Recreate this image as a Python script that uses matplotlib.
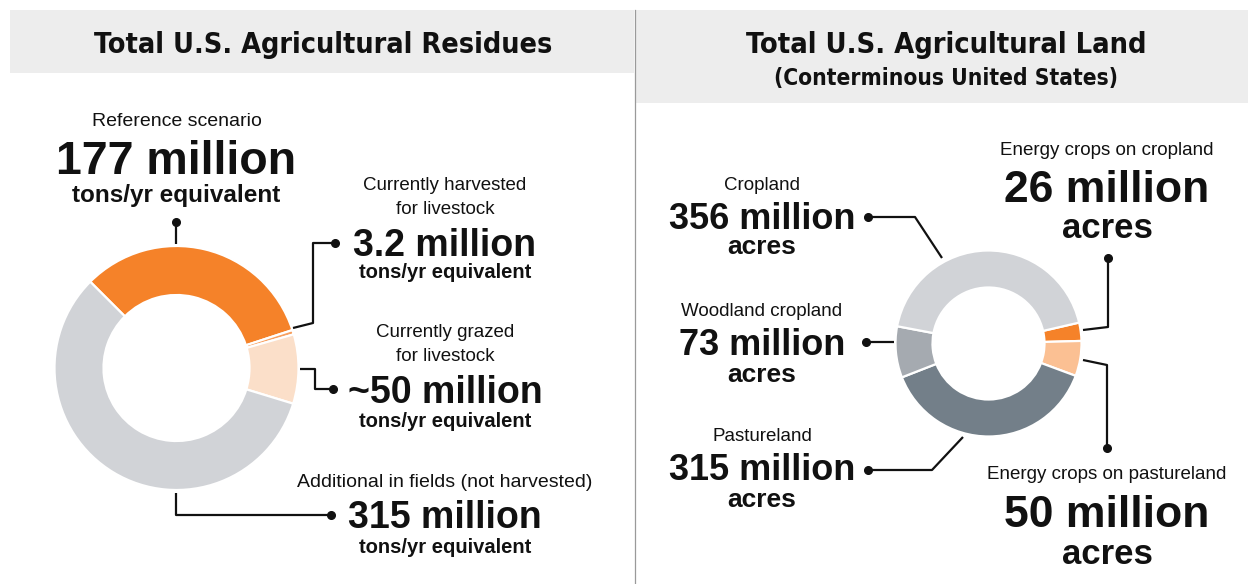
import matplotlib
matplotlib.use("Agg")
import matplotlib.pyplot as plt
from matplotlib.patches import Rectangle
from matplotlib import font_manager as fm

W, H = 1248, 584

# ---------------- data ----------------
res_labels = [["Reference scenario"], ["Currently harvested", "for livestock"],
              ["Currently grazed", "for livestock"], ["Additional in fields (not harvested)"]]
res_values = [177, 3.2, 50, 315]
res_value_text = ["177 million", "3.2 million", "~50 million", "315 million"]
res_unit = "tons/yr equivalent"
res_colors = ["#F58229", "#F7A060", "#FBDFC9", "#D1D3D7"]

land_labels = ["Energy crops on cropland", "Energy crops on pastureland",
               "Pastureland", "Woodland cropland", "Cropland"]
land_values = [26, 50, 315, 73, 356]
land_value_text = ["26 million", "50 million", "315 million", "73 million", "356 million"]
land_unit = "acres"
land_colors = ["#F58229", "#FBC093", "#737F89", "#A5AAB0", "#D1D3D7"]

titles = ["Total U.S. Agricultural Residues", "Total U.S. Agricultural Land",
          "(Conterminous United States)"]

# ---------------- fonts ----------------
def find_condensed_bold():
    best = None
    for f in fm.fontManager.ttflist:
        stretch = str(f.stretch).lower()
        name = f.name
        cond = ("narrow" in name.lower() or "condensed" in name.lower()
                or "condensed" in stretch)
        if not cond or "semi" in stretch or "extra" in stretch or "ultra" in stretch:
            continue
        w = f.weight
        try:
            w = int(w)
        except Exception:
            w = {"bold": 700, "semibold": 600, "demibold": 600, "heavy": 800,
                 "black": 900, "extra bold": 800}.get(str(w).lower(), 400)
        if w < 600 or "italic" in str(f.style).lower() or f.style != "normal":
            continue
        score = abs(w - 700)
        if best is None or score < best[0]:
            best = (score, f.fname)
    return best[1] if best else None


cond_path = find_condensed_bold()

# ---------------- figure ----------------
fig = plt.figure(figsize=(W / 100, H / 100), dpi=100)
ax = fig.add_axes([0, 0, 1, 1])


def Y(y):
    return H - y


ax.pie(res_values, colors=res_colors, startangle=135, counterclock=False,
       radius=122, center=(176.5, Y(368)),
       wedgeprops=dict(width=49, edgecolor="white", linewidth=1.6))
ax.pie(land_values, colors=land_colors, startangle=13, counterclock=False,
       radius=93, center=(988.5, Y(343.5)),
       wedgeprops=dict(width=37, edgecolor="white", linewidth=1.6))

ax.set_xlim(0, W)
ax.set_ylim(0, H)
ax.set_aspect("equal")
ax.axis("off")

# header bands and divider
ax.add_patch(Rectangle((10, Y(73)), 624, 63, facecolor="#EDEDED", edgecolor="none", zorder=0))
ax.add_patch(Rectangle((635, Y(103)), W - 635, 93, facecolor="#EDEDED", edgecolor="none", zorder=0))
ax.plot([634.5, 634.5], [Y(10), Y(584)], color="#9A9A9A", lw=0.9, zorder=1)

INK = "#111111"
REG = "Liberation Sans"
NUM = "Liberation Sans"


def txt(x, y, s, size, weight="normal", family=REG):
    return ax.text(x, Y(y), s, ha="center", va="baseline", fontsize=size,
                   fontweight=weight, family=family, color=INK)


def title_txt(x, y, s, target_w, size):
    if cond_path:
        fp = fm.FontProperties(fname=cond_path, size=size)
        t = ax.text(x, Y(y), s, ha="center", va="baseline", fontproperties=fp, color=INK)
    else:
        t = txt(x, y, s, size, "bold")
    fig.canvas.draw()
    w = t.get_window_extent(fig.canvas.get_renderer()).width
    t.set_fontsize(t.get_fontsize() * target_w / w)
    return t


def line(xs, ys):
    ax.plot(xs, [Y(v) for v in ys], color=INK, lw=1.6, solid_capstyle="butt", zorder=3)


def dot(x, y):
    ax.plot([x], [Y(y)], "o", color=INK, markersize=5.5, zorder=4)


# titles
title_txt(323, 53, titles[0], 460, 26)
title_txt(946, 53, titles[1], 402, 26)
title_txt(946, 85, titles[2], 343, 18)

# ---------- left panel ----------
txt(177, 126, res_labels[0][0], 14)
txt(176, 174, res_value_text[0], 33.5, "bold", NUM)
txt(176, 202, res_unit, 17.5, "bold", NUM)
dot(176, 222)
line([176, 176], [222, 244])

txt(445, 190, res_labels[1][0], 13.5)
txt(445, 214, res_labels[1][1], 13.5)
txt(445, 256, res_value_text[1], 27, "bold", NUM)
txt(445, 278, res_unit, 14.5, "bold", NUM)
dot(335, 243)
line([335, 313, 313, 293], [243, 243, 323, 328])

txt(445, 337, res_labels[2][0], 13.5)
txt(445, 361, res_labels[2][1], 13.5)
txt(445, 403, res_value_text[2], 27, "bold", NUM)
txt(445, 427, res_unit, 14.5, "bold", NUM)
dot(333, 389)
line([300, 315, 315, 333], [369, 369, 389, 389])

txt(445, 487, res_labels[3][0], 14)
txt(445, 528, res_value_text[3], 27, "bold", NUM)
txt(445, 553, res_unit, 14.5, "bold", NUM)
dot(331, 515)
line([176, 176, 331], [493, 515, 515])

# ---------- right panel ----------
txt(762, 190, land_labels[4], 13.5)
txt(762, 229, land_value_text[4], 26, "bold", NUM)
txt(762, 254, land_unit, 19, "bold", NUM)
dot(868, 217)
line([868, 915, 942], [217, 217, 258])

txt(762, 316, land_labels[3], 13.5)
txt(762, 355, land_value_text[3], 26, "bold", NUM)
txt(762, 382, land_unit, 19, "bold", NUM)
dot(866, 342)
line([866, 894], [342, 342])

txt(762, 441, land_labels[2], 13.5)
txt(762, 480, land_value_text[2], 26, "bold", NUM)
txt(762, 507, land_unit, 19, "bold", NUM)
dot(868, 470)
line([868, 932, 963], [470, 470, 437])

txt(1107, 155, land_labels[0], 13.5)
txt(1107, 202, land_value_text[0], 32, "bold", NUM)
txt(1107, 238, land_unit, 25, "bold", NUM)
dot(1108, 258)
line([1108, 1108, 1083], [258, 327, 330])

txt(1107, 479, land_labels[1], 13.5)
txt(1107, 527, land_value_text[1], 32, "bold", NUM)
txt(1107, 564, land_unit, 25, "bold", NUM)
dot(1107, 448)
line([1083, 1107, 1107], [360, 365, 448])

fig.savefig("out.png", dpi=100, facecolor="white")
